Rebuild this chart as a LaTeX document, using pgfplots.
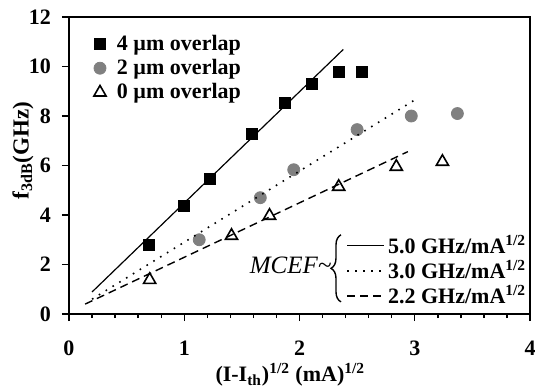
\documentclass[border=0pt]{standalone}
\usepackage{fontspec}
\setmainfont{Liberation Serif}
\usepackage{pgfplots}
\pgfplotsset{compat=1.18}
\usetikzlibrary{decorations.pathreplacing}
\definecolor{cgray}{RGB}{128,128,128}
\begin{document}
\begin{tikzpicture}
\useasboundingbox (-34.5pt,-36.5pt) rectangle (233pt,157pt);
\begin{axis}[
  at={(0,0)}, anchor=south west,
  scale only axis, width=230.5pt, height=148.5pt,
  xmin=0, xmax=4, ymin=0, ymax=12,
  xtick={0,1,2,3,4}, minor x tick num=4,
  ytick={0,2,...,12},
  tick align=outside, xtick pos=bottom, ytick pos=left,
  major tick length=3.5pt, minor tick length=2pt,
  axis line style={line width=0.8pt},
  every tick/.style={black, line width=0.7pt},
  tick label style={font=\fontsize{11}{13}\selectfont\bfseries},
  xticklabel style={yshift=-6.5pt},
  yticklabel style={xshift=-2pt},
  /pgf/number format/assume math mode=true,
  xlabel={(I-I\textsubscript{th})\textsuperscript{1/2} (mA)\textsuperscript{1/2}},
  xlabel style={font=\fontsize{11}{13}\selectfont\bfseries, at={(axis description cs:0.48,0)}, anchor=center, yshift=-30.5pt},
  ylabel={f\textsubscript{3dB}(GHz)},
  ylabel style={font=\fontsize{11.5}{13}\selectfont\bfseries, at={(axis description cs:-0.1,0.55)}, anchor=center},
  legend style={at={(0.036,0.965)}, anchor=north west, draw=none, fill=none,
    font=\fontsize{11}{13}\selectfont\bfseries, row sep=0pt, nodes={inner sep=1.5pt}},
  legend cell align=left,
  legend image code/.code={\path[draw=none,fill=none] (0pt,0pt) -- (11pt,0pt); \draw[#1] plot coordinates {(4pt,0pt)};},
]
\addplot[only marks, mark=square*, mark size=2.75pt, black] coordinates {
 (0.69,2.79) (1.0,4.37) (1.22,5.47) (1.59,7.29) (1.87,8.54) (2.11,9.31) (2.34,9.8) (2.54,9.8)};
\addlegendentry{4 µm overlap}
\addplot[only marks, mark=*, mark size=3pt, draw=cgray, fill=cgray] coordinates {
 (1.13,3.0) (1.66,4.7) (1.95,5.83) (2.5,7.45) (2.97,8.0) (3.37,8.1)};
\addlegendentry{2 µm overlap}
\addplot[only marks, mark=triangle*, mark size=3.5pt, draw=black, fill=white, mark options={line width=0.8pt}] coordinates {
 (0.70,1.38) (1.41,3.16) (1.74,3.97) (2.34,5.14) (2.84,5.95) (3.24,6.15)};
\addlegendentry{0 µm overlap}
\end{axis}
\begin{axis}[
  at={(0,0)}, anchor=south west,
  scale only axis, width=230.5pt, height=148.5pt,
  xmin=0, xmax=4, ymin=0, ymax=12,
  hide axis,
  legend style={at={(0.588,0.29)}, anchor=north west, draw=none, fill=none,
    font=\fontsize{11}{13}\selectfont\bfseries, row sep=-1pt, nodes={inner sep=1.5pt}},
  legend cell align=left,
  legend image code/.code={\draw[#1] (0pt,0pt) -- (18.5pt,0pt);},
]
\addplot[black, line width=0.6pt] coordinates {(0.2,0.89) (2.38,10.69)};
\addlegendentry{5.0 GHz/mA\textsuperscript{1/2}}
\addplot[black, line width=0.8pt, dash pattern=on 0.8pt off 3.2pt] coordinates {(0.2,0.6) (3.0,8.65)};
\addlegendentry{3.0 GHz/mA\textsuperscript{1/2}}
\addplot[black, line width=0.7pt, dash pattern=on 4pt off 2.5pt] coordinates {(0.14,0.4) (2.94,6.56)};
\addlegendentry{2.2 GHz/mA\textsuperscript{1/2}}
\draw[line width=0.7pt, decorate, decoration={brace, amplitude=5pt}] (axis cs:2.36,0.49) -- (axis cs:2.36,3.2);
\node[anchor=east, font=\fontsize{12.5}{14}\selectfont\itshape, inner sep=0pt] at (axis cs:2.28,1.98) {MCEF\textasciitilde};
\end{axis}
\end{tikzpicture}
\end{document}
